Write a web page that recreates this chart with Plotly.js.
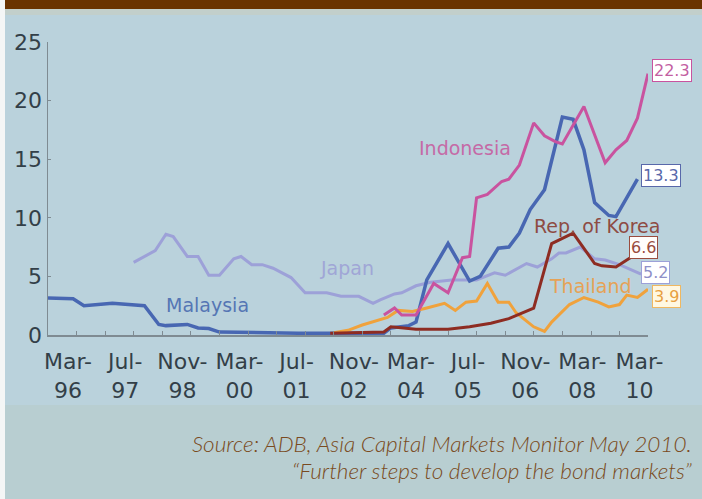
<!DOCTYPE html>
<html>
<head>
<meta charset="utf-8">
<script src="https://cdn.plot.ly/plotly-3.0.1.min.js"></script>
<style>html,body{margin:0;padding:0;background:#bad2dc;}#chart{width:702px;height:499px;}</style>
</head>
<body>
<div id="chart"></div>
<script>
// ---- Data (% share) ----
const malaysiaDates = ['1996-03','1996-10','1997-01','1997-09','1998-06','1998-10','1998-12','1999-06','1999-09','1999-12','2000-03','2002-01','2004-01','2004-03','2004-08','2004-10','2005-01','2005-07','2006-01','2006-04','2006-09','2006-12','2007-03','2007-06','2007-10','2008-03','2008-06','2008-09','2008-12','2009-04','2009-06','2009-12'];
const malaysiaValues = [3.15,3.1,2.5,2.7,2.5,0.9,0.8,0.9,0.6,0.55,0.25,0.15,0.15,0.6,0.8,1.1,4.7,7.8,4.6,5.0,7.4,7.5,8.7,10.7,12.4,18.6,18.4,15.8,11.3,10.2,10.1,13.3];

const japanDates = ['1998-03','1998-09','1998-12','1999-02','1999-06','1999-09','1999-12','2000-03','2000-07','2000-09','2000-12','2001-03','2001-06','2001-11','2002-03','2002-09','2003-01','2003-06','2003-10','2003-12','2004-04','2004-06','2004-10','2005-02','2005-08','2006-03','2006-08','2006-11','2007-05','2007-08','2007-12','2008-02','2008-04','2008-08','2008-12','2009-03','2009-07','2010-01'];
const japanValues = [6.2,7.2,8.6,8.4,6.7,6.7,5.1,5.1,6.5,6.7,6.0,6.0,5.7,4.9,3.6,3.6,3.3,3.3,2.7,3.0,3.5,3.6,4.2,4.5,4.7,4.7,5.3,5.1,6.1,5.8,6.5,7.0,7.0,7.5,6.5,6.4,6.0,5.2];

const indonesiaDates = ['2004-01','2004-04','2004-06','2004-10','2005-03','2005-05','2005-07','2005-11','2006-01','2006-03','2006-06','2006-10','2006-12','2007-03','2007-07','2007-10','2008-01','2008-03','2008-09','2009-03','2009-06','2009-09','2009-12','2010-03'];
const indonesiaValues = [1.7,2.3,1.7,1.7,4.4,4.0,3.6,6.6,6.7,11.7,12.0,13.1,13.3,14.5,18.1,17.0,16.5,16.3,19.5,14.7,15.8,16.6,18.5,22.3];

const thailandDates = ['2002-11','2003-03','2003-07','2003-10','2004-02','2004-05','2004-09','2005-01','2005-06','2005-09','2005-12','2006-03','2006-06','2006-09','2006-12','2007-02','2007-07','2007-10','2007-12','2008-05','2008-09','2009-01','2009-04','2009-07','2009-09','2009-12','2010-03'];
const thailandValues = [0.2,0.4,0.85,1.1,1.5,2.1,2.0,2.3,2.7,2.1,2.8,2.9,4.4,2.8,2.8,1.9,0.7,0.3,1.1,2.6,3.2,2.8,2.4,2.6,3.4,3.2,3.9];

const koreaDates = ['2002-10','2004-01','2004-03','2004-10','2005-07','2006-01','2006-07','2006-12','2007-07','2007-12','2008-06','2008-12','2009-02','2009-06','2009-10'];
const koreaValues = [0.15,0.25,0.7,0.5,0.5,0.7,1.0,1.4,2.3,7.8,8.7,6.1,5.9,5.8,6.6];

const tickDates = ['1996-03-01','1997-07-01','1998-11-01','2000-03-01','2001-07-01','2002-11-01','2004-03-01','2005-07-01','2006-11-01','2008-03-01','2009-07-01'];
const tickLabels = ['Mar-<br>96','Jul-<br>97','Nov-<br>98','Mar-<br>00','Jul-<br>01','Nov-<br>02','Mar-<br>04','Jul-<br>05','Nov-<br>06','Mar-<br>08','Mar-<br>10'];

// ---- helpers: pixel -> paper position for layout items ----
const L = 48, R = 54, T = 42, B = 164, W = 702, H = 499;
const pw = W - L - R, ph = H - T - B;
const px = x => (x - L) / pw;
const py = y => (H - B - y) / ph;

const series = [
  {name:'Japan', x:japanDates, y:japanValues, color:'#9da1d8', width:3},
  {name:'Malaysia', x:malaysiaDates, y:malaysiaValues, color:'#4867b2', width:3.5},
  {name:'Thailand', x:thailandDates, y:thailandValues, color:'#f0a23c', width:3},
  {name:'Rep. of Korea', x:koreaDates, y:koreaValues, color:'#8e2c22', width:3},
  {name:'Indonesia', x:indonesiaDates, y:indonesiaValues, color:'#c9539f', width:3}
];

const traces = series.map(s => ({
  type:'scatter', mode:'lines', x:s.x, y:s.y, name:s.name,
  line:{color:s.color, width:s.width}, hoverinfo:'x+y'
}));

const labelFont = {family:'DejaVu Sans, Verdana, sans-serif', size:19};
const nameLabels = [
  {text:'Indonesia', x:465, y:148, color:'#c56aa6'},
  {text:'Japan', x:347, y:268, color:'#a0a6d6'},
  {text:'Malaysia', x:207, y:305, color:'#5576b4'},
  {text:'Rep. of Korea', x:597, y:226, color:'#8e4b43'},
  {text:'Thailand', x:590, y:286, color:'#e6a256'}
].map(a => ({xref:'paper', yref:'paper', x:px(a.x), y:py(a.y), xanchor:'center', yanchor:'middle',
  text:a.text, showarrow:false, font:Object.assign({}, labelFont, {color:a.color})}));

const endBoxes = [
  {vals:indonesiaValues, x:672, y:70, color:'#c35fa2', border:'#c9539f', bg:'#ffffff'},
  {vals:malaysiaValues, x:661, y:175, color:'#5868aa', border:'#5868aa', bg:'#ffffff'},
  {vals:koreaValues, x:643, y:247, color:'#9a4c3e', border:'#9a4c3e', bg:'#fffdfb'},
  {vals:japanValues, x:655, y:272, color:'#8f90c8', border:'#9da1d8', bg:'#ffffff'},
  {vals:thailandValues, x:666, y:296, color:'#e8a040', border:'#f0b860', bg:'#fff8e2'}
].map(a => ({xref:'paper', yref:'paper', x:px(a.x), y:py(a.y), xanchor:'center', yanchor:'middle',
  text:a.vals[a.vals.length-1].toFixed(1), showarrow:false,
  font:{family:'DejaVu Sans, Verdana, sans-serif', size:16, color:a.color},
  bgcolor:a.bg, bordercolor:a.border, borderwidth:1, borderpad:1}));

const srcFont = {family:'Lato, "Open Sans", sans-serif', size:22.5, color:'#7a4a20', style:'italic', weight:300};
const sourceNotes = [
  {text:'Source: ADB, Asia Capital Markets Monitor May 2010.', y:443},
  {text:'\u201CFurther steps to develop the bond markets\u201D', y:470}
].map(a => ({xref:'paper', yref:'paper', x:px(694), y:py(a.y), xanchor:'right', yanchor:'middle',
  text:a.text, showarrow:false, font:srcFont}));

const shapes = [
  {type:'rect', xref:'paper', yref:'paper', x0:px(0), x1:px(W), y0:py(405), y1:py(H), fillcolor:'#b8ced1', line:{width:0}, layer:'below'},
  {type:'rect', xref:'paper', yref:'paper', x0:px(0), x1:px(W), y0:py(15), y1:py(9), fillcolor:'#c2cfcb', line:{width:0}, layer:'below'},
  {type:'rect', xref:'paper', yref:'paper', x0:px(0), x1:px(W), y0:py(9), y1:py(0), fillcolor:'#6a3300', line:{width:0}, layer:'below'},
  {type:'rect', xref:'paper', yref:'paper', x0:px(0), x1:px(5), y0:py(H), y1:py(0), fillcolor:'#f4f6f6', line:{width:0}, layer:'below'}
];

const axisColor = '#7f8b92';
const tickFont = {family:'DejaVu Sans, Verdana, sans-serif', size:22, color:'#333f48'};

const layout = {
  width:W, height:H,
  margin:{l:L, r:R, t:T, b:B, pad:0},
  paper_bgcolor:'#bad2dc', plot_bgcolor:'rgba(0,0,0,0)',
  showlegend:false,
  xaxis:{type:'date', range:['1996-03-01','2010-03-01'], showgrid:false, zeroline:false,
    showline:true, linecolor:axisColor, linewidth:1.5,
    tickmode:'array', tickvals:tickDates, ticktext:tickLabels,
    ticks:'inside', ticklen:4, tickcolor:axisColor, tickwidth:1,
    tickfont:tickFont, ticklabelshift:20, ticklabelstandoff:6,
    minor:{dtick:'M8', tick0:'1996-03-01', ticks:'inside', ticklen:4, tickcolor:axisColor, showgrid:false},
    fixedrange:true},
  yaxis:{range:[0,25], dtick:5, tick0:0, showgrid:false, zeroline:false,
    showline:true, linecolor:axisColor, linewidth:1.5,
    ticks:'inside', ticklen:3, tickcolor:axisColor, tickfont:tickFont, fixedrange:true},
  shapes:shapes,
  annotations:nameLabels.concat(endBoxes, sourceNotes)
};

Plotly.newPlot('chart', traces, layout, {displayModeBar:false, staticPlot:true});
</script>
</body>
</html>
